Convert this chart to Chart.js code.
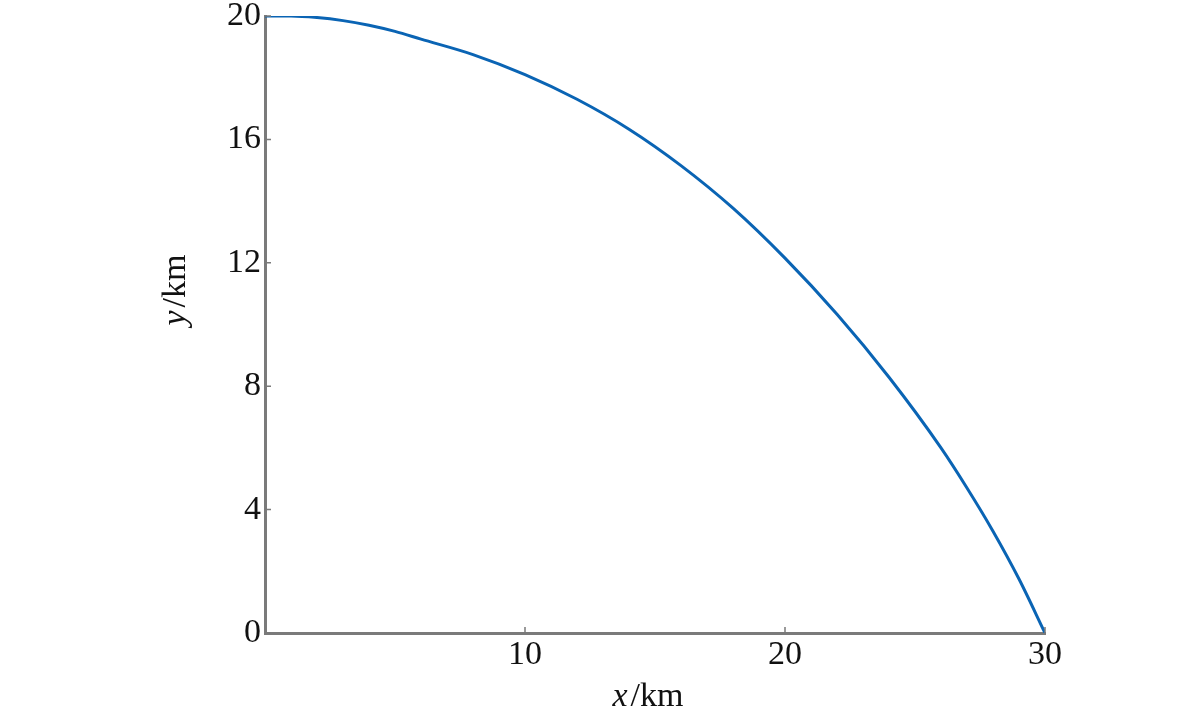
<!DOCTYPE html>
<html>
<head>
<meta charset="utf-8">
<script src="https://cdn.jsdelivr.net/npm/chart.js@4.4.1/dist/chart.umd.min.js"></script>
<style>
  html, body { margin: 0; padding: 0; background: #fff; }
  #wrap { width: 1200px; height: 722px; }
</style>
</head>
<body>
<div id="wrap"><canvas id="chart" width="1200" height="722"></canvas></div>
<script>
// curve (km)
const xKm = [0, 1, 2, 3, 4, 5, 6, 8, 10, 12, 14, 16, 18, 20, 22, 24, 26, 27, 28, 29, 30];
const yKm = [20, 20, 19.95, 19.85, 19.7, 19.5, 19.25, 18.75, 18.1, 17.3, 16.33, 15.15, 13.77, 12.15, 10.33, 8.29, 6.0, 4.7, 3.3, 1.75, 0];
const xTicks = [10, 20, 30];
const yTicks = [0, 4, 8, 12, 16, 20];

const FONT = '"Liberation Serif", "DejaVu Serif", serif';
const AXIS = '#7a7a7a';

// inward tick marks + mixed italic axis titles
const decor = {
  id: 'decor',
  afterDraw(chart) {
    const { ctx, chartArea: a, scales: { x, y } } = chart;
    ctx.save();
    ctx.strokeStyle = AXIS;
    ctx.lineWidth = 1.5;
    ctx.beginPath();
    xTicks.forEach((v) => {
      const px = x.getPixelForValue(v);
      ctx.moveTo(px, a.bottom);
      ctx.lineTo(px, a.bottom - 6);
    });
    yTicks.forEach((v) => {
      const py = y.getPixelForValue(v);
      ctx.moveTo(a.left, py);
      ctx.lineTo(a.left + 6, py);
    });
    ctx.stroke();

    const title = (it, rest) => {
      ctx.font = `italic 34px ${FONT}`;
      const w1 = ctx.measureText(it).width;
      ctx.font = `34px ${FONT}`;
      const w2 = ctx.measureText(rest).width;
      const gap = 3;
      const start = -(w1 + gap + w2) / 2;
      ctx.textBaseline = 'middle';
      ctx.textAlign = 'left';
      ctx.fillStyle = '#111';
      ctx.font = `italic 34px ${FONT}`;
      ctx.fillText(it, start, 0);
      ctx.font = `34px ${FONT}`;
      ctx.fillText(rest, start + w1 + gap, 0);
    };

    ctx.save();
    ctx.translate((a.left + a.right) / 2 - 7, 697);
    title('x', '/km');
    ctx.restore();

    ctx.save();
    ctx.translate(176, 290);
    ctx.rotate(-Math.PI / 2);
    title('y', '/km');
    ctx.restore();

    ctx.restore();
  },
};

new Chart(document.getElementById('chart'), {
  type: 'line',
  data: {
    datasets: [{
      data: xKm.map((v, i) => ({ x: v, y: yKm[i] })),
      borderColor: '#0a64b4',
      borderWidth: 3,
      pointRadius: 0,
      cubicInterpolationMode: 'monotone',
      fill: false,
    }],
  },
  options: {
    responsive: false,
    animation: false,
    layout: { padding: { top: 16, right: 155, left: 0, bottom: 0 } },
    plugins: { legend: { display: false }, tooltip: { enabled: false } },
    scales: {
      x: {
        type: 'linear',
        min: 0,
        max: 30,
        afterBuildTicks: (s) => { s.ticks = xTicks.map((v) => ({ value: v })); },
        afterFit: (s) => { s.height = 89; },
        grid: { display: false, drawTicks: false },
        border: { display: true, color: AXIS, width: 3 },
        ticks: { color: '#111', font: { family: FONT, size: 34 }, padding: 2, maxRotation: 0, autoSkip: false },
      },
      y: {
        type: 'linear',
        min: 0,
        max: 20,
        afterBuildTicks: (s) => { s.ticks = yTicks.map((v) => ({ value: v })); },
        afterFit: (s) => { s.width = 265; s.paddingTop = 0; s.paddingBottom = 0; },
        grid: { display: false, drawTicks: false },
        border: { display: true, color: AXIS, width: 3 },
        ticks: { color: '#111', font: { family: FONT, size: 34 }, padding: 4, autoSkip: false },
      },
    },
  },
  plugins: [decor],
});
</script>
</body>
</html>
